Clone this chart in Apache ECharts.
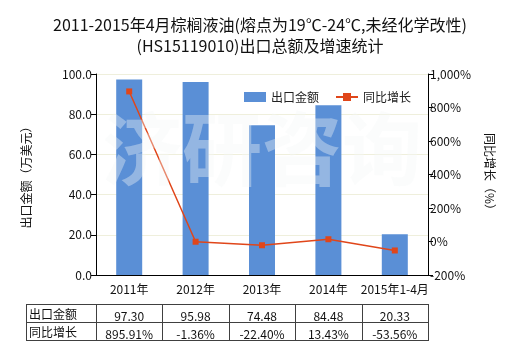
<!DOCTYPE html>
<html><head><meta charset="utf-8">
<script src="https://cdn.jsdelivr.net/npm/echarts@6/dist/echarts.min.js"></script>
<style>html,body{margin:0;padding:0;background:#fff}#c{width:520px;height:350px}</style>
</head><body><div id="c"></div>
<script>
const categories = ['2011年','2012年','2013年','2014年','2015年1-4月'];
const exportValues = [97.30, 95.98, 74.48, 84.48, 20.33];
const growthValues = [895.91, -1.36, -22.40, 13.43, -53.56];
const exportLabels = ['97.30','95.98','74.48','84.48','20.33'];
const growthLabels = ['895.91%','-1.36%','-22.40%','13.43%','-53.56%'];
const seriesNames = ['出口金额','同比增长'];
const titleText = '2011-2015年4月棕榈液油(熔点为19℃-24℃,未经化学改性)\n(HS15119010)出口总额及增速统计';
const watermark = '济研咨询';

const FONT = '"Noto Sans CJK SC","Noto Sans",sans-serif';
const chart = echarts.init(document.getElementById('c'), null, {renderer:'canvas'});
const GL = 96, GR = 92, GT = 74, GB = 75;
chart.setOption({
  animation:false,
  textStyle:{fontFamily:FONT},
  title:{text:titleText,left:'center',top:9,textStyle:{fontSize:16,fontWeight:'normal',color:'#111',lineHeight:21,fontFamily:FONT}},
  legend:{top:86,left:239,itemWidth:22,itemHeight:10,itemGap:16,
    textStyle:{fontSize:12,color:'#222',fontFamily:FONT},
    data:[{name:seriesNames[0],icon:'rect'},{name:seriesNames[1]}]},
  grid:{left:GL,right:GR,top:GT,bottom:GB},
  xAxis:{type:'category',data:categories,
    axisLine:{lineStyle:{color:'#000',width:1}},
    axisTick:{alignWithLabel:true,length:5,lineStyle:{color:'#000'}},
    axisLabel:{color:'#111',fontSize:12,margin:8,interval:0,fontFamily:FONT}},
  yAxis:[
    {type:'value',min:0,max:100,interval:20,name:'出口金额（万美元）',nameLocation:'middle',nameGap:64,nameRotate:90,
     nameTextStyle:{fontSize:12,color:'#111',fontFamily:FONT},
     axisLine:{show:true,lineStyle:{color:'#000'}},axisTick:{show:true,length:5,lineStyle:{color:'#000'}},
     axisLabel:{formatter:v=>v.toFixed(1),color:'#111',fontSize:12,margin:4},
     splitLine:{show:true,lineStyle:{color:'#efefdc',width:1}}},
    {type:'value',min:-200,max:1000,interval:200,name:'同比增长（%）',nameLocation:'middle',nameGap:56,nameRotate:-90,
     nameTextStyle:{fontSize:12,color:'#111',fontFamily:FONT},
     axisLine:{show:true,lineStyle:{color:'#000'}},axisTick:{show:true,length:5,lineStyle:{color:'#000'}},
     axisLabel:{formatter:v=>v.toLocaleString('en-US')+'%',color:'#111',fontSize:12,margin:2},
     splitLine:{show:false}}
  ],
  series:[
    {name:seriesNames[0],type:'bar',data:exportValues,barWidth:26,itemStyle:{color:'#5a8fd6'},z:2},
    {name:seriesNames[1],type:'line',yAxisIndex:1,data:growthValues,symbol:'rect',symbolSize:6,
     lineStyle:{color:'#e0461a',width:1.5},itemStyle:{color:'#e0461a'},z:3}
  ]
});

// table + watermark
const n = categories.length;
const x0 = chart.convertToPixel({xAxisIndex:0}, 0);
const x1 = chart.convertToPixel({xAxisIndex:0}, 1);
const step = x1 - x0;
const left = x0 - step/2;
const tableLeft = 26;
const rowH = 18, tTop = 304;
const els = [];
const lineStyle = {stroke:'#404040',lineWidth:1};
const right = left + step*n;
for (let r=0;r<=2;r++){
  const y = tTop + r*rowH + 0.5;
  els.push({type:'line',shape:{x1:tableLeft,y1:y,x2:Math.round(right)+0.5,y2:y},style:lineStyle,silent:true});
}
const vxs = [tableLeft];
for (let i=0;i<=n;i++) vxs.push(Math.round(left + i*step));
vxs.forEach(x=>els.push({type:'line',shape:{x1:x+0.5,y1:tTop,x2:x+0.5,y2:tTop+2*rowH+1},style:lineStyle,silent:true}));
const rowVals = [exportLabels, growthLabels];
for (let r=0;r<2;r++){
  const cy = tTop + r*rowH + rowH/2 + 1;
  els.push({type:'text',style:{text:seriesNames[r],x:tableLeft+3,y:cy,textVerticalAlign:'middle',verticalAlign:'middle',fill:'#111',font:'12px '+FONT},silent:true});
  for (let i=0;i<n;i++){
    const cx = chart.convertToPixel({xAxisIndex:0}, i);
    els.push({type:'text',style:{text:rowVals[r][i],x:cx,y:cy+2,align:'center',textAlign:'center',verticalAlign:'middle',textVerticalAlign:'middle',fill:'#111',font:'12px '+FONT},silent:true});
  }
}
els.push({type:'text',z:100,style:{text:watermark,x:(GL+520-GR)/2,y:149,align:'center',textAlign:'center',verticalAlign:'middle',textVerticalAlign:'middle',
  fill:'rgba(244,247,247,0.38)',font:'bold 80px '+FONT},silent:true});
chart.setOption({graphic:els});
</script></body></html>
